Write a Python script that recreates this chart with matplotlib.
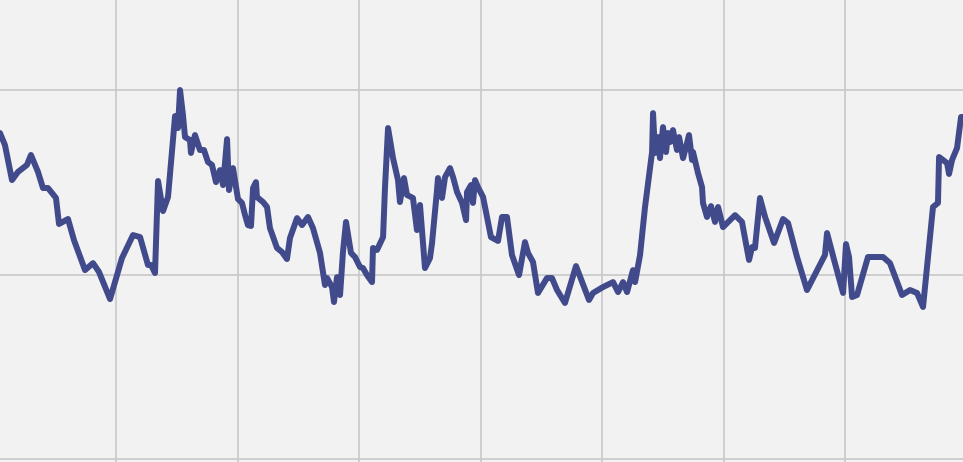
import matplotlib
matplotlib.use('Agg')
import matplotlib.pyplot as plt

days = [4.5, 8.6, 14.4, 19.3, 26.7, 30.0, 35.8, 39.9, 44.0, 50.6,
        53.1, 60.5, 65.4, 74.5, 81.1, 86.0, 95.1, 104.9, 114.0, 119.8,
        126.3, 128.8, 132.1, 134.6, 138.7, 142.8, 148.6, 151.0, 152.7, 155.1,
        156.8, 160.9, 161.7, 165.0, 169.1, 172.4, 175.7, 179.0, 182.3, 185.6,
        188.1, 191.4, 193.0, 196.3, 200.4, 203.7, 206.2, 208.6, 211.1, 212.8,
        215.2, 216.0, 221.0, 224.3, 226.7, 232.5, 236.6, 240.7, 243.2, 249.0,
        253.1, 258.0, 262.1, 267.9, 272.0, 273.7, 277.8, 279.4, 281.9, 284.4,
        286.8, 289.3, 293.4, 296.7, 300.8, 303.3, 306.6, 310.7, 311.5, 314.8,
        319.8, 321.4, 323.9, 328.0, 332.1, 333.7, 337.0, 339.5, 344.4, 347.7,
        350.2, 354.3, 358.4, 360.1, 364.2, 365.0, 368.3, 370.8, 374.9, 377.4,
        380.7, 384.8, 388.1, 388.9, 392.2, 393.8, 395.5, 397.9, 402.1, 408.6,
        414.4, 417.7, 421.8, 425.9, 431.7, 436.6, 439.1, 443.2, 447.3, 454.7,
        458.8, 463.0, 469.5, 478.6, 489.3, 492.6, 500.8, 509.1, 513.2, 517.3,
        520.6, 525.5, 527.2, 531.3, 535.4, 541.2, 542.0, 543.6, 546.1, 547.7,
        550.2, 552.7, 554.3, 556.0, 558.4, 561.7, 563.4, 566.7, 570.0, 571.6,
        574.1, 574.9, 579.0, 582.3, 583.1, 586.4, 589.7, 593.0, 595.5, 599.6,
        609.5, 615.2, 621.0, 623.5, 625.9, 630.0, 634.2, 641.6, 649.0, 653.1,
        660.5, 668.7, 683.5, 685.2, 691.0, 698.4, 700.8, 703.3, 705.8, 709.9,
        718.9, 731.3, 737.0, 746.9, 753.5, 759.3, 764.2, 772.4, 776.5, 777.4,
        784.0, 785.6, 788.1, 792.2, 795.5, 800.0]

values = [176.7, 170.2, 151.2, 155.6, 159.4, 164.8, 155.6, 146.9, 146.9, 141.5,
          127.4, 130.1, 118.7, 102.4, 106.2, 101.4, 86.7, 108.9, 121.4, 120.3,
          105.2, 105.2, 100.8, 150.7, 134.4, 142.0, 185.9, 179.4, 200.0, 186.5,
          174.5, 172.9, 165.9, 175.6, 167.5, 167.5, 161.0, 159.4, 150.1, 156.6,
          148.5, 173.4, 145.8, 157.7, 140.9, 138.8, 132.2, 126.8, 126.3, 146.9,
          150.1, 142.0, 139.3, 136.6, 125.2, 114.4, 112.2, 108.4, 119.8, 130.6,
          126.8, 131.2, 125.2, 111.7, 94.3, 98.1, 93.2, 85.1, 98.6, 88.9,
          112.2, 128.5, 111.7, 109.5, 104.1, 103.5, 99.7, 95.9, 114.4, 113.3,
          120.3, 147.4, 179.4, 163.1, 151.2, 139.3, 152.3, 143.1, 141.5, 124.1,
          137.7, 103.5, 108.9, 117.1, 145.8, 152.3, 141.5, 152.8, 157.7, 152.8,
          144.7, 138.8, 129.5, 144.7, 148.5, 138.8, 151.2, 147.4, 142.0, 120.3,
          118.2, 131.2, 131.2, 110.6, 99.7, 117.6, 111.7, 106.8, 90.0, 98.1,
          98.1, 91.6, 84.6, 104.6, 86.2, 90.0, 93.2, 95.9, 90.5, 95.9,
          90.5, 102.4, 95.9, 110.6, 136.6, 166.4, 187.5, 165.9, 174.5, 163.1,
          179.9, 166.4, 176.7, 171.8, 178.3, 167.5, 174.5, 163.1, 171.3, 175.6,
          162.1, 166.4, 155.0, 147.4, 138.8, 131.2, 137.1, 128.5, 136.6, 125.7,
          132.2, 128.5, 107.9, 114.9, 114.4, 141.5, 131.2, 117.1, 130.1, 127.9,
          109.5, 91.6, 110.6, 122.5, 107.9, 90.0, 116.5, 109.5, 87.8, 88.9,
          109.5, 109.5, 106.2, 88.9, 91.6, 90.0, 82.4, 136.6, 138.8, 163.7,
          160.4, 154.5, 162.1, 168.6, 185.4, 185.4]

fig = plt.figure(figsize=(9.63, 4.62), dpi=100)
ax = fig.add_axes([0, 0, 1, 1])
ax.set_facecolor('#f2f2f2')

ax.plot(days, values, color='#414b8c', linewidth=4.3,
        solid_joinstyle='round', solid_capstyle='round', zorder=3)

ax.set_xticks(range(100, 701, 100))
ax.set_yticks(range(0, 201, 100))
ax.set_xlim(4.53, 797.1)
ax.set_ylim(-1.6, 248.8)
ax.grid(True, color='#c8c8c8', linewidth=1.2)
ax.tick_params(length=0, labelbottom=False, labelleft=False)
for s in ax.spines.values():
    s.set_visible(False)

fig.savefig('out.png', dpi=100, facecolor='#f2f2f2')
